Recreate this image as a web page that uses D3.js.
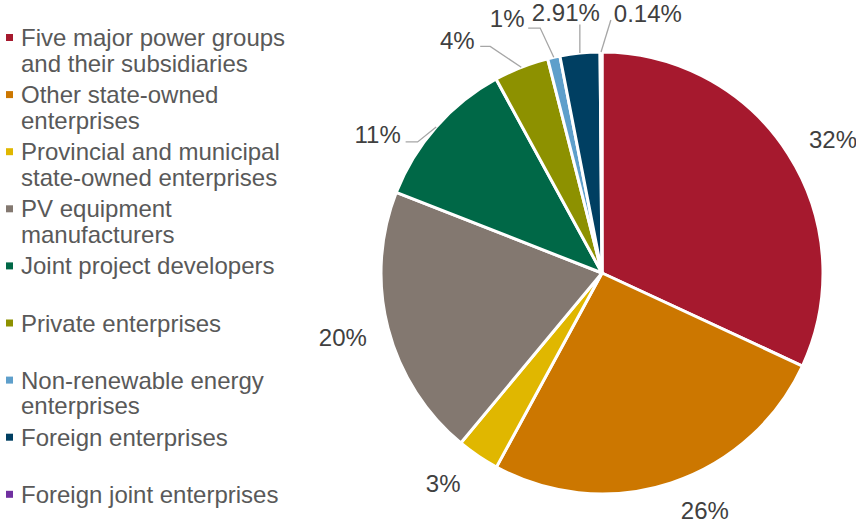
<!DOCTYPE html>
<html>
<head>
<meta charset="utf-8">
<script src="https://cdn.jsdelivr.net/npm/d3@7"></script>
<style>
  body { margin: 0; background: #fff; }
  svg { font-family: "Liberation Sans", Arial, sans-serif; }
</style>
</head>
<body>
<svg id="chart" width="856" height="523"></svg>
<script>
// categories, in pie order (clockwise from 12 o'clock)
var categories = [
  "Five major power groups and their subsidiaries",
  "Other state-owned enterprises",
  "Provincial and municipal state-owned enterprises",
  "PV equipment manufacturers",
  "Joint project developers",
  "Private enterprises",
  "Non-renewable energy enterprises",
  "Foreign enterprises",
  "Foreign joint enterprises"
];
// legend text, wrapped as in the picture
var legendLines = [
  ["Five major power groups", "and their subsidiaries"],
  ["Other state-owned", "enterprises"],
  ["Provincial and municipal", "state-owned enterprises"],
  ["PV equipment", "manufacturers"],
  ["Joint project developers"],
  ["Private enterprises"],
  ["Non-renewable energy", "enterprises"],
  ["Foreign enterprises"],
  ["Foreign joint enterprises"]
];
var shares = [31.9, 26.0, 3.1, 19.9, 11.1, 4.0, 0.9, 2.91, 0.14];
var shareLabels = ["32%", "26%", "3%", "20%", "11%", "4%", "1%", "2.91%", "0.14%"];
var colors = ["#a6192e", "#cc7700", "#e0b700", "#837870", "#006847", "#8d9100", "#5e9fcb", "#003f62", "#7030a0"];

var svg = d3.select("#chart");
var cx = 602, cy = 273, radius = 221;

// label placement: angle (deg, clockwise from top), distance from centre
// leader: [elbow dx, dy], [end dx, dy] relative to the label centre
var labelPos = [
  {a: 59.9, d: 267},
  {a: 156.6, d: 259},
  {a: 217, d: 264},
  {a: 256.1, d: 267},
  {a: 301.8, d: 264, leader: [[40, 8], [28, 8]]},
  {a: 328.1, d: 274, leader: [[33, 6], [23, 6]]},
  {a: 339.6, d: 272, leader: [[33, 10], [21, 10]]},
  {a: 352.1, d: 263, leader: [[14, 12], [14, 12]]},
  {a: 10, d: 264, leader: [[-37, 7], [-37, 7]]}
];

var pie = d3.pie().sort(null).value(function(d) { return d; });
var arcs = pie(shares);
var arc = d3.arc().innerRadius(0).outerRadius(radius);

var g = svg.append("g").attr("transform", "translate(" + cx + "," + cy + ")");

g.selectAll("path.slice")
  .data(arcs)
  .enter()
  .append("path")
    .attr("class", "slice")
    .attr("d", arc)
    .attr("fill", function(d, i) { return colors[i]; })
    .attr("stroke", "#fff")
    .attr("stroke-width", 3)
    .attr("stroke-linejoin", "round");

function polar(deg, dist) {
  var t = deg * Math.PI / 180;
  return [Math.sin(t) * dist, -Math.cos(t) * dist];
}

// leader lines
arcs.forEach(function(d, i) {
  var lp = labelPos[i];
  if (!lp.leader) return;
  var mid = (d.startAngle + d.endAngle) / 2;
  var p0 = [Math.sin(mid) * radius, -Math.cos(mid) * radius];
  var c = polar(lp.a, lp.d);
  var elbow = [c[0] + lp.leader[0][0], c[1] + lp.leader[0][1]];
  var end = [c[0] + lp.leader[1][0], c[1] + lp.leader[1][1]];
  g.append("path")
    .attr("d", d3.line()([p0, elbow, end]))
    .attr("fill", "none")
    .attr("stroke", "#a6a6a6")
    .attr("stroke-width", 1.3);
});

g.selectAll("text.pct")
  .data(arcs)
  .enter()
  .append("text")
    .attr("class", "pct")
    .attr("x", function(d, i) { return polar(labelPos[i].a, labelPos[i].d)[0]; })
    .attr("y", function(d, i) { return polar(labelPos[i].a, labelPos[i].d)[1]; })
    .attr("dy", "0.36em")
    .attr("text-anchor", "middle")
    .attr("font-size", "24px")
    .attr("fill", "#404040")
    .text(function(d, i) { return shareLabels[i]; });

// legend
var legend = svg.append("g").attr("transform", "translate(0,0)");
var item = legend.selectAll("g.item")
  .data(categories)
  .enter()
  .append("g")
    .attr("class", "item")
    .attr("transform", function(d, i) { return "translate(0," + (46 + i * 57.1) + ")"; });

item.append("rect")
  .attr("x", 6)
  .attr("y", -12)
  .attr("width", 7)
  .attr("height", 7)
  .attr("fill", function(d, i) { return colors[i]; });

item.append("text")
  .attr("x", 21)
  .attr("y", 0)
  .attr("font-size", "24px")
  .attr("fill", "#595959")
  .selectAll("tspan")
  .data(function(d, i) { return legendLines[i]; })
  .enter()
  .append("tspan")
    .attr("x", 21)
    .attr("dy", function(d, j) { return j === 0 ? 0 : 25.5; })
    .text(function(d) { return d; });
</script>
</body>
</html>
